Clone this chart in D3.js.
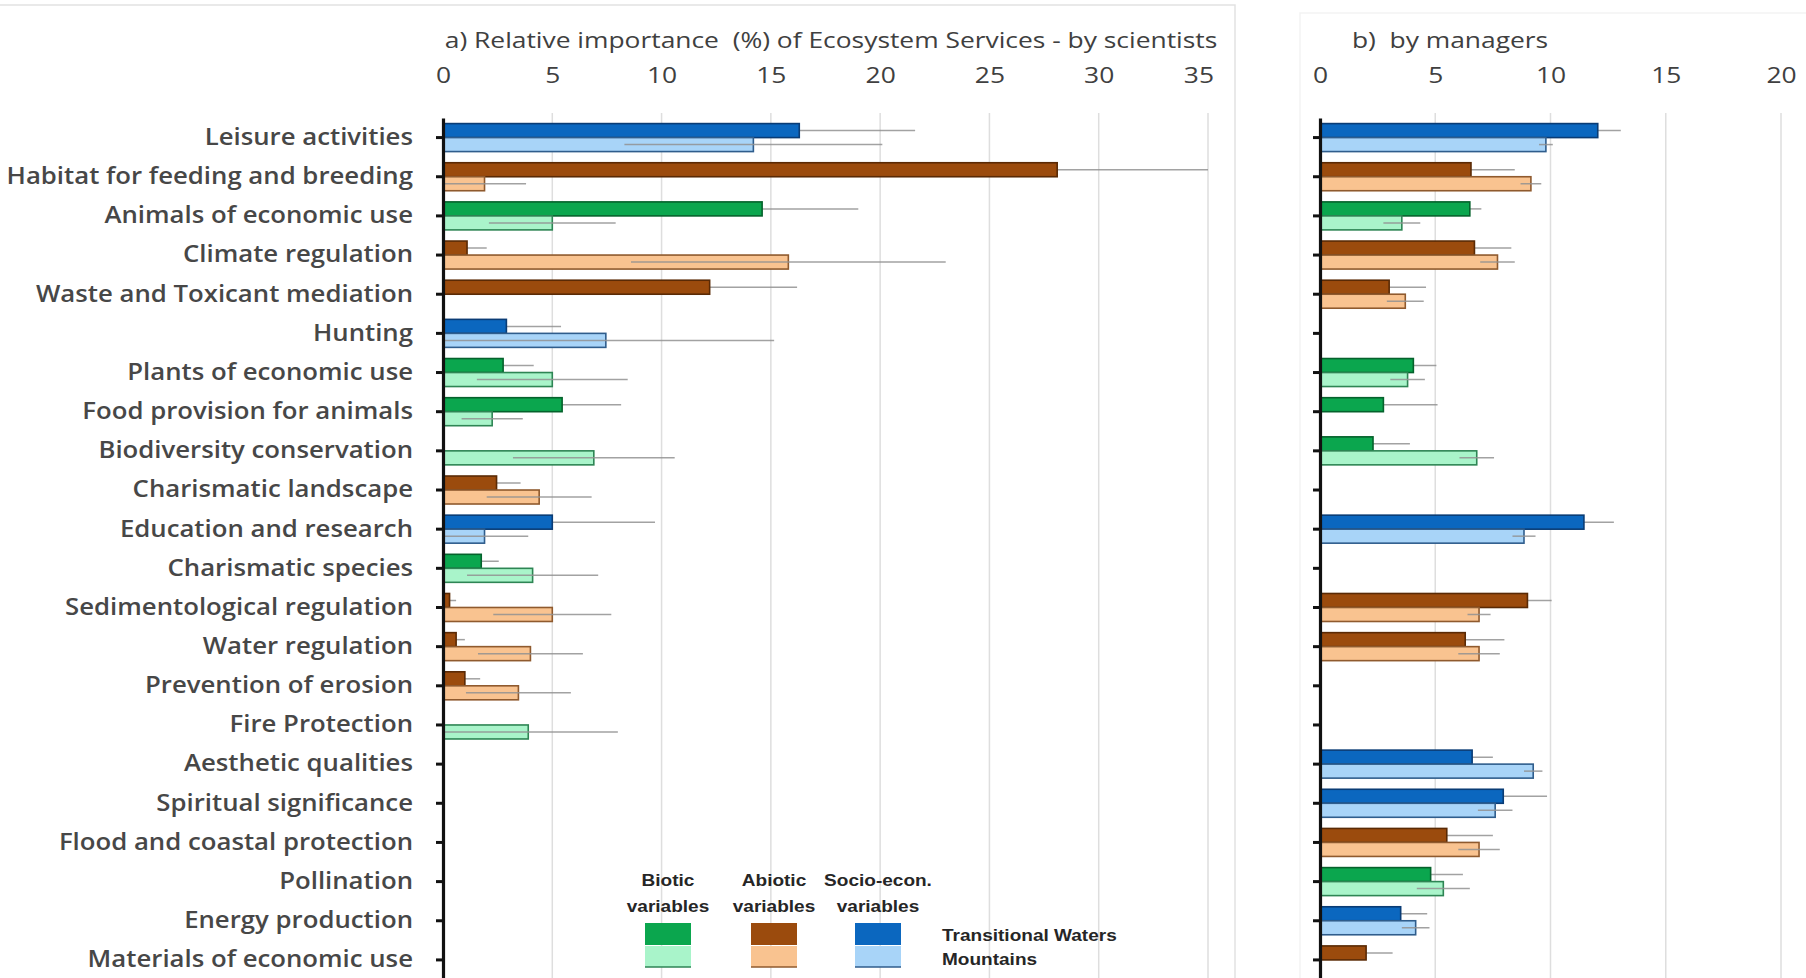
<!DOCTYPE html>
<html>
<head>
<meta charset="utf-8">
<script src="https://cdn.jsdelivr.net/npm/d3@7"></script>
<style>
  html, body { margin: 0; padding: 0; background: #fff; }
  svg { display: block; }
  .title, .tick-label { font-family: "Open Sans", sans-serif; fill: #404040; }
  .cat-label { font-family: "Open Sans", sans-serif; font-weight: 600; fill: #474747; }
  .legend-text { font-family: "Liberation Sans", Arial, sans-serif; font-weight: bold; fill: #262626; }
</style>
</head>
<body>
<svg id="chart" width="1806" height="978"></svg>
<script>
// Ecosystem services, top to bottom
const categories = [
  "Leisure activities",
  "Habitat for feeding and breeding",
  "Animals of economic use",
  "Climate regulation",
  "Waste and Toxicant mediation",
  "Hunting",
  "Plants of economic use",
  "Food provision for animals",
  "Biodiversity conservation",
  "Charismatic landscape",
  "Education and research",
  "Charismatic species",
  "Sedimentological regulation",
  "Water regulation",
  "Prevention of erosion",
  "Fire Protection",
  "Aesthetic qualities",
  "Spiritual significance",
  "Flood and coastal protection",
  "Pollination",
  "Energy production",
  "Materials of economic use"
];

// Variable type of each service (sets the bar colour)
const categoryType = [
  "socio", "abiotic", "biotic", "abiotic", "abiotic", "socio", "biotic", "biotic",
  "biotic", "abiotic", "socio", "biotic", "abiotic", "abiotic", "abiotic", "biotic",
  "socio", "socio", "abiotic", "biotic", "socio", "abiotic"
];

// a) Relative importance (%) by scientists
const sciTW    = [16.3, 28.1, 14.6, 1.1, 12.2, 2.9, 2.75, 5.45, null, 2.45, 5.0, 1.75, 0.3, 0.6, 1.0, null, null, null, null, null, null, null];
const sciTWErr = [5.3, 6.9, 4.4, 0.9, 4.0, 2.5, 1.4, 2.7, null, 1.1, 4.7, 0.8, 0.3, 0.4, 0.7, null, null, null, null, null, null, null];
const sciM     = [14.2, 1.9, 5.0, 15.8, null, 7.45, 5.0, 2.25, 6.9, 4.4, 1.9, 4.1, 5.0, 4.0, 3.45, 3.9, null, null, null, null, null, null];
const sciMErr  = [5.9, 1.9, 2.9, 7.2, null, 7.7, 3.45, 1.4, 3.7, 2.4, 2.0, 3.0, 2.7, 2.4, 2.4, 4.1, null, null, null, null, null, null];

// b) Relative importance (%) by managers
const mgrTW    = [12.05, 6.55, 6.5, 6.7, 3.0, null, 4.05, 2.75, 2.3, null, 11.45, null, 9.0, 6.3, null, null, 6.6, 7.95, 5.5, 4.8, 3.5, 2.0];
const mgrTWErr = [1.0, 1.9, 0.5, 1.6, 1.6, null, 1.0, 2.35, 1.6, null, 1.3, null, 1.05, 1.7, null, null, 0.9, 1.9, 2.0, 1.4, 1.15, 1.15];
const mgrM     = [9.8, 9.15, 3.55, 7.7, 3.7, null, 3.8, null, 6.8, null, 8.85, null, 6.9, 6.9, null, null, 9.25, 7.6, 6.9, 5.35, 4.15, null];
const mgrMErr  = [0.3, 0.45, 0.8, 0.75, 0.8, null, 0.75, null, 0.75, null, 0.5, null, 0.5, 0.9, null, null, 0.4, 0.75, 0.9, 1.15, 0.6, null];

// Axis ticks
const sciTicks = [0, 5, 10, 15, 20, 25, 30, 35];
const mgrTicks = [0, 5, 10, 15, 20];

// Legend
const legendTypes = ["biotic", "abiotic", "socio"];
const legendTypeLabels = [["Biotic", "variables"], ["Abiotic", "variables"], ["Socio-econ.", "variables"]];
const seriesKeys = ["tw", "m"];
const seriesLabels = ["Transitional Waters", "Mountains"];

const palette = {
  biotic:  { tw: "#0ba64e", twEdge: "#05622c", m: "#a9f4ca", mEdge: "#2e8554" },
  abiotic: { tw: "#9b4b0d", twEdge: "#5a2a05", m: "#f9c390", mEdge: "#8f5a2e" },
  socio:   { tw: "#0b67bf", twEdge: "#0a3c75", m: "#a8d4f8", mEdge: "#2f5d8c" }
};

// Text is set slightly wide
const stretch = 1.2;
const labelStretch = 1.12;

const W = 1806, H = 978;
const svg = d3.select("#chart");

// Light frames around the two panels
svg.append("path").attr("d", `M0,5H1235V${H}`)
  .attr("fill", "none").attr("stroke", "#e2e2e2").attr("stroke-width", 1.5);
svg.append("path").attr("d", `M1300,${H}V13H${W}`)
  .attr("fill", "none").attr("stroke", "#f3f3f3").attr("stroke-width", 1.5);

// Shared category scale
const y = d3.scaleBand().domain(categories).range([118, 979.5]);
const barH = 14;
const sub = d3.scaleBand().domain(seriesKeys).range([-barH, barH]);

function drawPanel(cfg) {
  const x = d3.scaleLinear().domain([0, d3.max(cfg.ticks)]).range(cfg.range);
  const g = svg.append("g");

  // vertical gridlines
  g.append("g").selectAll("line")
    .data(cfg.ticks.filter(t => t > 0))
    .join("line")
    .attr("x1", d => x(d)).attr("x2", d => x(d))
    .attr("y1", 113).attr("y2", H)
    .attr("stroke", "#dedede").attr("stroke-width", 1.5);

  // value axis on top
  const xAxis = g.append("g")
    .attr("transform", "translate(0,83)")
    .call(d3.axisTop(x).tickValues(cfg.ticks).tickSize(0).tickPadding(0).tickFormat(d3.format("d")));
  xAxis.select(".domain").remove();
  xAxis.selectAll("text")
    .attr("class", "tick-label").attr("font-size", 22).attr("fill", null)
    .attr("x", (d, i, n) => (i === n.length - 1 ? cfg.lastTickShift : 0))
    .attr("transform", `scale(${stretch},1)`);

  // panel title
  g.append("text").attr("class", "title")
    .attr("transform", `translate(${cfg.titleX},48) scale(${stretch},1)`)
    .attr("text-anchor", "middle").attr("font-size", 22)
    .style("white-space", "pre")
    .text(cfg.title);

  const bars = [];
  categories.forEach((c, i) => {
    const type = categoryType[i];
    if (cfg.tw[i] != null) bars.push({ cat: c, type, key: "tw", v: cfg.tw[i], e: cfg.twErr[i] });
    if (cfg.m[i] != null) bars.push({ cat: c, type, key: "m", v: cfg.m[i], e: cfg.mErr[i] });
  });
  const cy = d => y(d.cat) + y.bandwidth() / 2 + sub(d.key) + barH / 2;

  const errLine = sel => sel
    .attr("x1", d => x(Math.max(0, d.v - d.e)))
    .attr("x2", d => x(d.v + d.e))
    .attr("y1", cy).attr("y2", cy)
    .attr("stroke", "#929292").attr("stroke-width", 1.5).attr("opacity", 0.85);

  // error bars of the dark series sit behind their bars
  g.append("g").selectAll("line").data(bars.filter(b => b.key === "tw" && b.e != null)).join("line").call(errLine);

  g.append("g").selectAll("rect").data(bars).join("rect")
    .attr("x", x(0))
    .attr("y", d => y(d.cat) + y.bandwidth() / 2 + sub(d.key))
    .attr("width", d => x(d.v) - x(0))
    .attr("height", sub.bandwidth())
    .attr("fill", d => palette[d.type][d.key])
    .attr("stroke", d => palette[d.type][d.key + "Edge"])
    .attr("stroke-width", 1.6);

  g.append("g").selectAll("line").data(bars.filter(b => b.key === "m" && b.e != null)).join("line").call(errLine);

  // category axis
  const yAxis = g.append("g")
    .attr("transform", `translate(${x(0)},0)`)
    .call(d3.axisLeft(y).tickSizeInner(7).tickSizeOuter(0).tickPadding(23)
      .tickFormat(cfg.labels ? (d => d) : () => ""));
  yAxis.select(".domain").attr("stroke", "#111").attr("stroke-width", 3.2);
  yAxis.selectAll(".tick line").attr("stroke", "#111").attr("stroke-width", 3);
  yAxis.selectAll(".tick text")
    .attr("class", "cat-label").attr("font-size", 23).attr("fill", null)
    .attr("x", 0).attr("transform", `translate(-30,0) scale(${labelStretch},1)`);
}

drawPanel({
  range: [443, 1208], ticks: sciTicks, title: "a) Relative importance  (%) of Ecosystem Services - by scientists",
  titleX: 831, tw: sciTW, twErr: sciTWErr, m: sciM, mErr: sciMErr, labels: true, lastTickShift: -8
});
drawPanel({
  range: [1320, 1781], ticks: mgrTicks, title: "b)  by managers",
  titleX: 1450, tw: mgrTW, twErr: mgrTWErr, m: mgrM, mErr: mgrMErr, labels: false, lastTickShift: 0
});

// Legend
const lg = svg.append("g");
const colX = [668, 774, 878];
const legendText = (x, yPos, anchor, txt) =>
  lg.append("text").attr("class", "legend-text")
    .attr("transform", `translate(${x},${yPos}) scale(1.12,1)`)
    .attr("text-anchor", anchor).attr("font-size", 17)
    .text(txt);

legendTypes.forEach((t, i) => {
  const cx = colX[i];
  legendTypeLabels[i].forEach((line, j) => legendText(cx, 886 + j * 26, "middle", line));
  lg.append("rect").attr("x", cx - 23).attr("y", 923).attr("width", 46).attr("height", 22)
    .attr("fill", palette[t].tw);
  lg.append("rect").attr("x", cx - 23).attr("y", 946).attr("width", 46).attr("height", 21)
    .attr("fill", palette[t].m);
  lg.append("line").attr("x1", cx - 23).attr("x2", cx + 23).attr("y1", 967).attr("y2", 967)
    .attr("stroke", palette[t].mEdge).attr("stroke-width", 1.5);
});
seriesLabels.forEach((s, j) => legendText(942, 941 + j * 24, "start", s));
</script>
</body>
</html>
